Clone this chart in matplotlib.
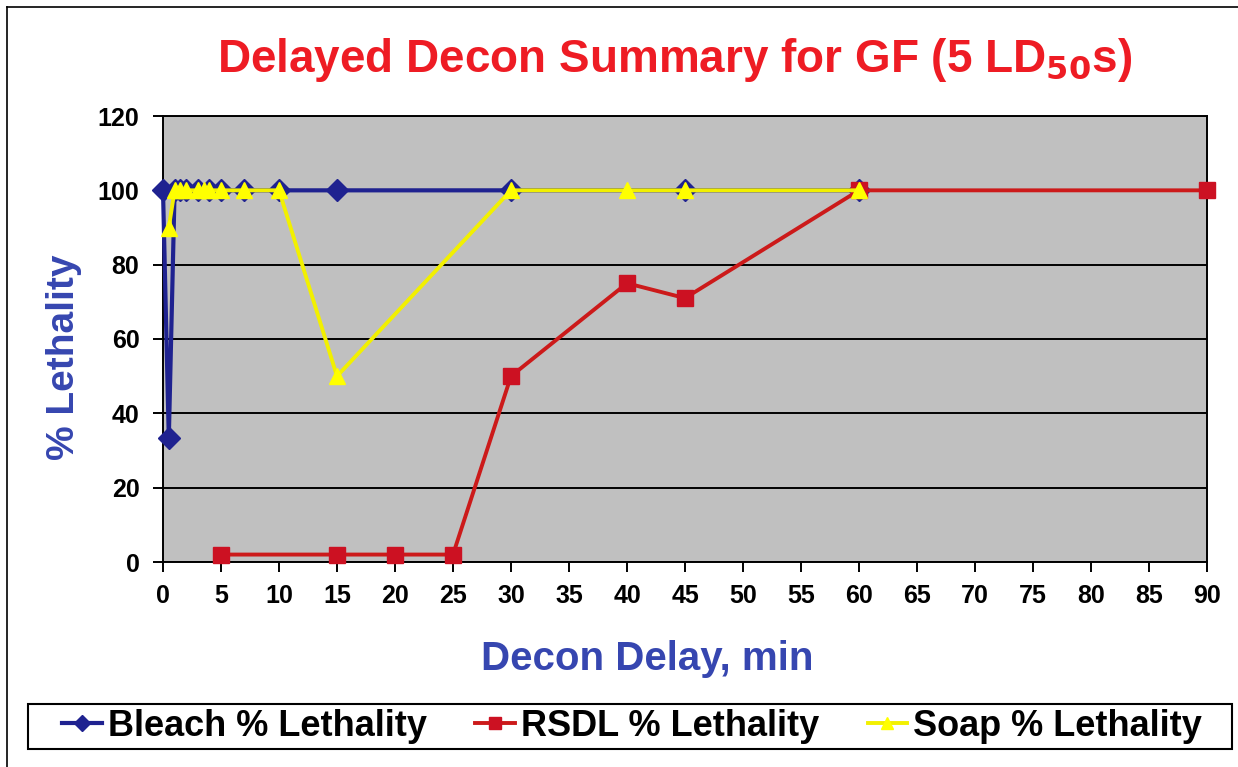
import matplotlib
matplotlib.use("Agg")
import matplotlib.pyplot as plt
from matplotlib.lines import Line2D
from matplotlib.patches import Rectangle

plt.rcParams['font.family'] = ['Liberation Sans', 'DejaVu Sans']

# data
bleach_x = [0, 0.5, 1, 1.5, 2, 3, 4, 5, 7, 10, 15, 30, 45, 60]
bleach_y = [100, 33.3, 100, 100, 100, 100, 100, 100, 100, 100, 100, 100, 100, 100]

rsdl_x = [5, 15, 20, 25, 30, 40, 45, 60, 90]
rsdl_y = [2, 2, 2, 2, 50, 75, 71, 100, 100]

soap_x = [0.5, 1, 1.5, 2, 3, 3.5, 4, 5, 7, 10, 15, 30, 40, 45, 60]
soap_y = [90, 100, 100, 100, 100, 100, 100, 100, 100, 100, 50, 100, 100, 100, 100]

x_ticks = list(range(0, 95, 5))
y_ticks = [0, 20, 40, 60, 80, 100, 120]

fig = plt.figure(figsize=(12.38, 7.67), dpi=100)
ax = fig.add_axes([163 / 1238, 1 - 562 / 767, (1207 - 163) / 1238, (562 - 116) / 767])
ax.set_facecolor('#C0C0C0')

ax.plot(bleach_x, bleach_y, color='#1F2290', lw=3, marker='D', ms=11,
        mfc='#1F2290', mec='#1F2290', label='Bleach % Lethality', clip_on=False, zorder=3)
ax.plot(rsdl_x, rsdl_y, color='#CC1A1A', lw=2.8, marker='s', ms=11,
        mfc='#CC1122', mec='#CC1122', label='RSDL % Lethality', clip_on=False, zorder=4)
ax.plot(soap_x, soap_y, color='#F2F000', lw=2.8, marker='^', ms=12,
        mfc='#FFFF00', mec='#FFFF00', label='Soap % Lethality', clip_on=False, zorder=5)

ax.set_xlim(0, 90)
ax.set_ylim(0, 120)
ax.set_xticks(x_ticks)
ax.set_yticks(y_ticks)
ax.yaxis.grid(True, color='black', lw=1.4)
ax.set_axisbelow(True)
for s in ax.spines.values():
    s.set_color('black')
    s.set_linewidth(1.4)
ax.tick_params(axis='both', direction='out', length=7, width=1.4, colors='black')
ax.tick_params(axis='x', pad=9)
ax.tick_params(axis='y', pad=10)
for lab in ax.get_xticklabels() + ax.get_yticklabels():
    lab.set_fontsize(18)
    lab.set_fontweight('bold')

fig.text(675 / 1238, 1 - 60 / 767, 'Delayed Decon Summary for GF (5 LD$_{\\mathbf{50}}$s)',
         color='#EE1C24', fontsize=33, fontweight='bold', ha='center', va='center')
fig.text(647 / 1238, 1 - 659 / 767, 'Decon Delay, min', color='#3646B0',
         fontsize=29, fontweight='bold', ha='center', va='center')
fig.text(64 / 1238, 1 - 357 / 767, '% Lethality', color='#3646B0', rotation=90,
         fontsize=28, fontweight='bold', ha='center', va='center')

# outer chart border (left and top edges visible)
fig.add_artist(Line2D([7 / 1238, 7 / 1238], [0, 1 - 7 / 767], color='black', lw=1.2))
fig.add_artist(Line2D([7 / 1238, 1], [1 - 7 / 767, 1 - 7 / 767], color='black', lw=1.2))

# legend box
fig.add_artist(Rectangle((28 / 1238, 1 - 749 / 767), 1204 / 1238, 45 / 767,
                         transform=fig.transFigure, facecolor='white',
                         edgecolor='black', lw=1.5))
leg = fig.legend(loc='center', ncol=3,
                 bbox_to_anchor=(632 / 1238, 1 - 726 / 767),
                 frameon=False, handlelength=1.1,
                 handletextpad=0.15, borderpad=0.2, columnspacing=1.35,
                 prop={'size': 26, 'weight': 'bold'})
for h in leg.legend_handles:
    h.set_markersize(8)

fig.savefig('out.png', dpi=100)
